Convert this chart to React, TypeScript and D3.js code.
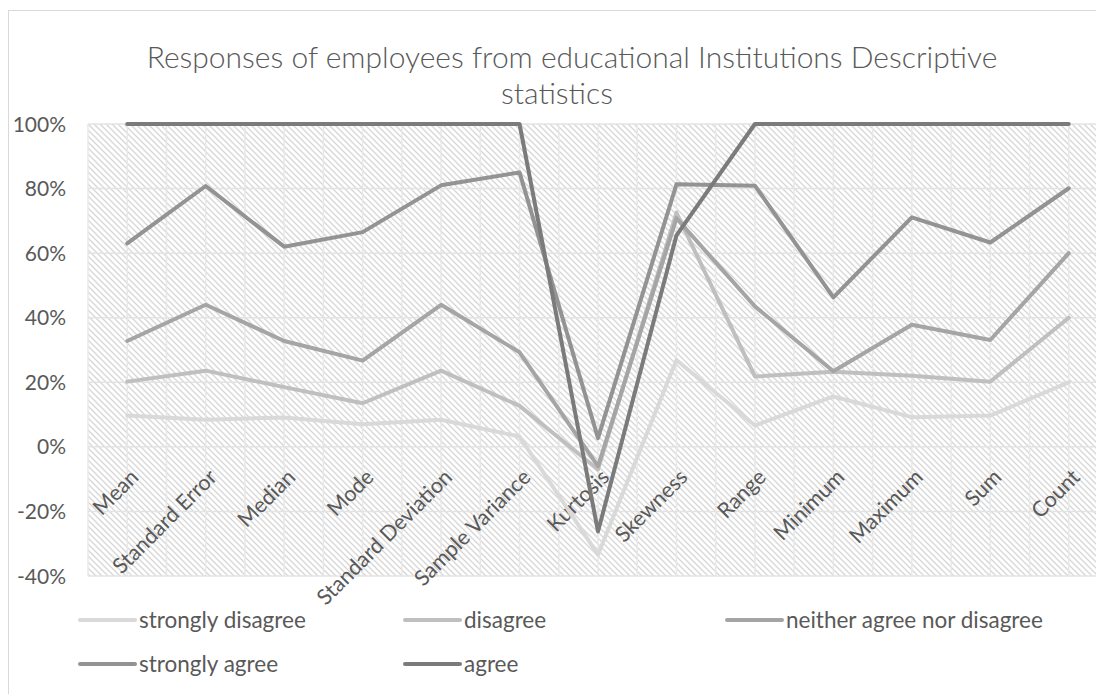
import React from "react";
import * as d3 from "d3";

const categories = [
  "Mean", "Standard Error", "Median", "Mode", "Standard Deviation", "Sample Variance",
  "Kurtosis", "Skewness", "Range", "Minimum", "Maximum", "Sum", "Count",
];
// plotted (100% stacked, cumulative) values in percent
const stronglyDisagree = [9.7, 8.4, 9.1, 7.0, 8.4, 3.2, -33.4, 26.9, 6.6, 15.6, 9.2, 9.7, 20.0];
const disagree = [20.2, 23.6, 18.5, 13.5, 23.6, 12.7, -7.0, 72.5, 21.8, 23.3, 22.0, 20.2, 40.0];
const neither = [32.8, 44.0, 32.8, 26.7, 44.0, 29.3, -6.0, 70.8, 43.5, 23.4, 37.8, 33.1, 60.0];
const stronglyAgree = [63.0, 80.8, 62.0, 66.5, 81.0, 85.0, 2.7, 81.3, 80.9, 46.3, 71.1, 63.3, 80.1];
const agree = [100, 100, 100, 100, 100, 100, -26.2, 65.5, 100, 100, 100, 100, 100];

const yTicks = [-40, -20, 0, 20, 40, 60, 80, 100];
const yTickLabels = ["-40%", "-20%", "0%", "20%", "40%", "60%", "80%", "100%"];

const seriesNames = ["strongly disagree", "disagree", "neither agree nor disagree", "strongly agree", "agree"];
const seriesValues = [stronglyDisagree, disagree, neither, stronglyAgree, agree];
const seriesColors = ["#d9d9d9", "#bfbfbf", "#a5a5a5", "#939393", "#7b7b7b"];

const titleLines = ["Responses of employees from educational Institutions Descriptive", "statistics"];

const FONT = "Lato, 'Open Sans', sans-serif";

export default function App() {
  const W = 1096, H = 694;
  const plotL = 88, plotR = 1108, plotT = 124, plotB = 576;

  const x = d3.scalePoint<string>().domain(categories).range([plotL, plotR]).padding(0.5);
  const y = d3.scaleLinear().domain([-40, 100]).range([plotB, plotT]);
  const step = x.step();

  const line = d3
    .line<number>()
    .x((_, i) => x(categories[i]) as number)
    .y((d) => y(d));

  const vGrid = d3.range(0, categories.length * 2 + 1).map((k) => plotL + (k * step) / 2);

  const legendCols = [80, 405, 727];
  const legendRows = [620, 664];

  return (
    <svg
      width={W}
      height={H}
      style={{ position: "absolute", left: 0, top: 0, background: "#fff" }}
      fontFamily={FONT}
    >
      <defs>
        <pattern id="hatch" width={6} height={6} patternUnits="userSpaceOnUse">
          <rect width={6} height={6} fill="#ffffff" />
          <path d="M-1.5,-1.5 L7.5,7.5 M-1.5,4.5 L1.5,7.5 M4.5,-1.5 L7.5,1.5" stroke="#d6d6d6" strokeWidth={1.3} />
        </pattern>
        <clipPath id="plotClip">
          <rect x={plotL - 4} y={plotT - 4} width={plotR - plotL + 8} height={plotB - plotT + 8} />
        </clipPath>
      </defs>

      {/* chart border */}
      <rect x={8.5} y={10.5} width={1200} height={800} fill="#fff" stroke="#d9d9d9" strokeWidth={1} />

      {/* title */}
      <text x={572} y={68} textAnchor="middle" fontSize={30} fill="#595959" fontWeight={300}>
        {titleLines[0]}
      </text>
      <text x={557} y={104} textAnchor="middle" fontSize={30} fill="#595959" fontWeight={300}>
        {titleLines[1]}
      </text>

      {/* plot area */}
      <rect x={plotL} y={plotT} width={plotR - plotL} height={plotB - plotT} fill="url(#hatch)" />

      {/* gridlines */}
      {vGrid.map((gx, i) => (
        <line key={"v" + i} x1={gx} x2={gx} y1={plotT} y2={plotB} stroke="#e8e8e8" strokeWidth={1.5} />
      ))}
      {yTicks.map((t) => (
        <line key={"h" + t} x1={plotL} x2={plotR} y1={y(t)} y2={y(t)} stroke="#e3e3e3" strokeWidth={1.5} />
      ))}

      {/* y labels */}
      {yTicks.map((t, i) => (
        <text key={"yl" + t} x={66} y={y(t)} dy="0.36em" textAnchor="end" fontSize={21} fill="#595959">
          {yTickLabels[i]}
        </text>
      ))}

      {/* x labels */}
      {categories.map((c) => (
        <text
          key={"xl" + c}
          transform={`translate(${(x(c) as number) + 7},${473}) rotate(-45)`}
          dy="0.36em"
          textAnchor="end"
          fontSize={21.5}
          fill="#595959"
        >
          {c}
        </text>
      ))}

      {/* series */}
      <g clipPath="url(#plotClip)">
        {seriesValues.map((vals, si) => (
          <path
            key={"s" + si}
            d={line(vals) || ""}
            fill="none"
            stroke={seriesColors[si]}
            strokeWidth={4}
            strokeLinejoin="round"
            strokeLinecap="round"
          />
        ))}
      </g>

      {/* legend */}
      {seriesNames.map((name, i) => {
        const col = i < 3 ? i : i - 3;
        const row = i < 3 ? 0 : 1;
        const lx = legendCols[col];
        const ly = legendRows[row];
        return (
          <g key={"lg" + i}>
            <line x1={lx} x2={lx + 55} y1={ly} y2={ly} stroke={seriesColors[i]} strokeWidth={4} strokeLinecap="round" />
            <text x={lx + 59} y={ly} dy="0.36em" fontSize={22.5} fill="#595959">
              {name}
            </text>
          </g>
        );
      })}
    </svg>
  );
}
